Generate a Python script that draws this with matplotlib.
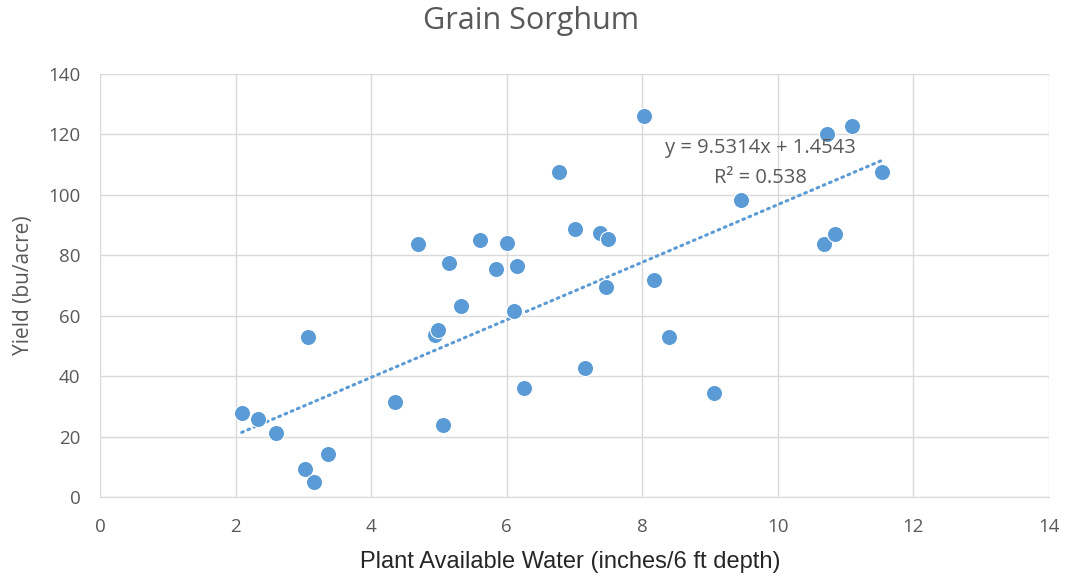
import numpy as np
import matplotlib
matplotlib.use("Agg")
import matplotlib.pyplot as plt

# Data
water = [2.09, 2.33, 2.60, 3.02, 3.16, 3.36, 3.07, 4.35, 4.69, 4.94, 4.98,
         5.06, 5.15, 5.32, 5.60, 5.84, 6.00, 6.15, 6.11, 6.25, 6.77, 7.00,
         7.16, 7.37, 7.50, 7.47, 8.17, 8.40, 8.02, 9.06, 9.45, 10.68, 10.84,
         10.73, 11.10, 11.53]
yield_bu = [27.8, 25.8, 21.2, 9.3, 5.0, 14.2, 53.0, 31.4, 83.7, 53.6, 55.3,
            23.8, 77.6, 63.2, 85.1, 75.6, 84.2, 76.4, 61.5, 36.1, 107.6, 88.7,
            42.6, 87.5, 85.4, 69.4, 71.8, 52.9, 126.1, 34.4, 98.2, 83.7, 87.1,
            120.1, 122.8, 107.7]

# trendline from the chart's equation
slope = 9.5314
intercept = 1.4543
r2 = 0.538

BLUE = "#5b9bd5"
GREY = "#595959"
GRID = "#d9d9d9"

plt.rcParams['font.family'] = ['Open Sans', 'DejaVu Sans']

fig = plt.figure(figsize=(10.7, 5.82), dpi=100)
ax = fig.add_axes([100 / 1070, 1 - 497 / 582, 949 / 1070, 423 / 582])

ax.scatter(water, yield_bu, s=135, color=BLUE, edgecolors="white",
           linewidths=0.8, zorder=3)

xs = np.array([min(water), max(water)])
ax.plot(xs, slope * xs + intercept, color=BLUE, linewidth=2.2,
        linestyle=(0, (0.6, 1.6)), dash_capstyle="round", zorder=2)

# equation label, two centred lines
ax.text(9.75, 115.5, f"y = {slope}x + {intercept}", ha="center",
        va="center", color=GREY, fontsize=14.5)
ax.text(9.75, 105.6, f"R² = {r2}", ha="center", va="center", color=GREY,
        fontsize=14.5)

ax.set_xlim(0, 14)
ax.set_ylim(0, 140)
ax.set_xticks(range(0, 15, 2))
ax.set_yticks(range(0, 141, 20))
ax.grid(True, color=GRID, linewidth=1)
ax.set_axisbelow(True)
for side in ["top", "right", "left"]:
    ax.spines[side].set_visible(False)
ax.spines["bottom"].set_color(GRID)
ax.tick_params(length=0, labelsize=13.5, colors=GREY)
ax.tick_params(axis="y", pad=14)
ax.tick_params(axis="x", pad=15)

ax.set_xlabel("Plant Available Water (inches/6 ft depth)", fontsize=17,
              color="#262626", family=["Liberation Sans", "DejaVu Sans"])
ax.xaxis.set_label_coords((570 - 100) / 949, -(551 - 497) / 423)
ax.set_ylabel("Yield (bu/acre)", fontsize=15, color=GREY)
ax.yaxis.set_label_coords(-(100 - 34) / 949, 0.5)
fig.suptitle("Grain Sorghum", x=531 / 1070, y=1 - 21 / 582, va="center",
             fontsize=22, color=GREY)

fig.savefig("out.png", dpi=100)
